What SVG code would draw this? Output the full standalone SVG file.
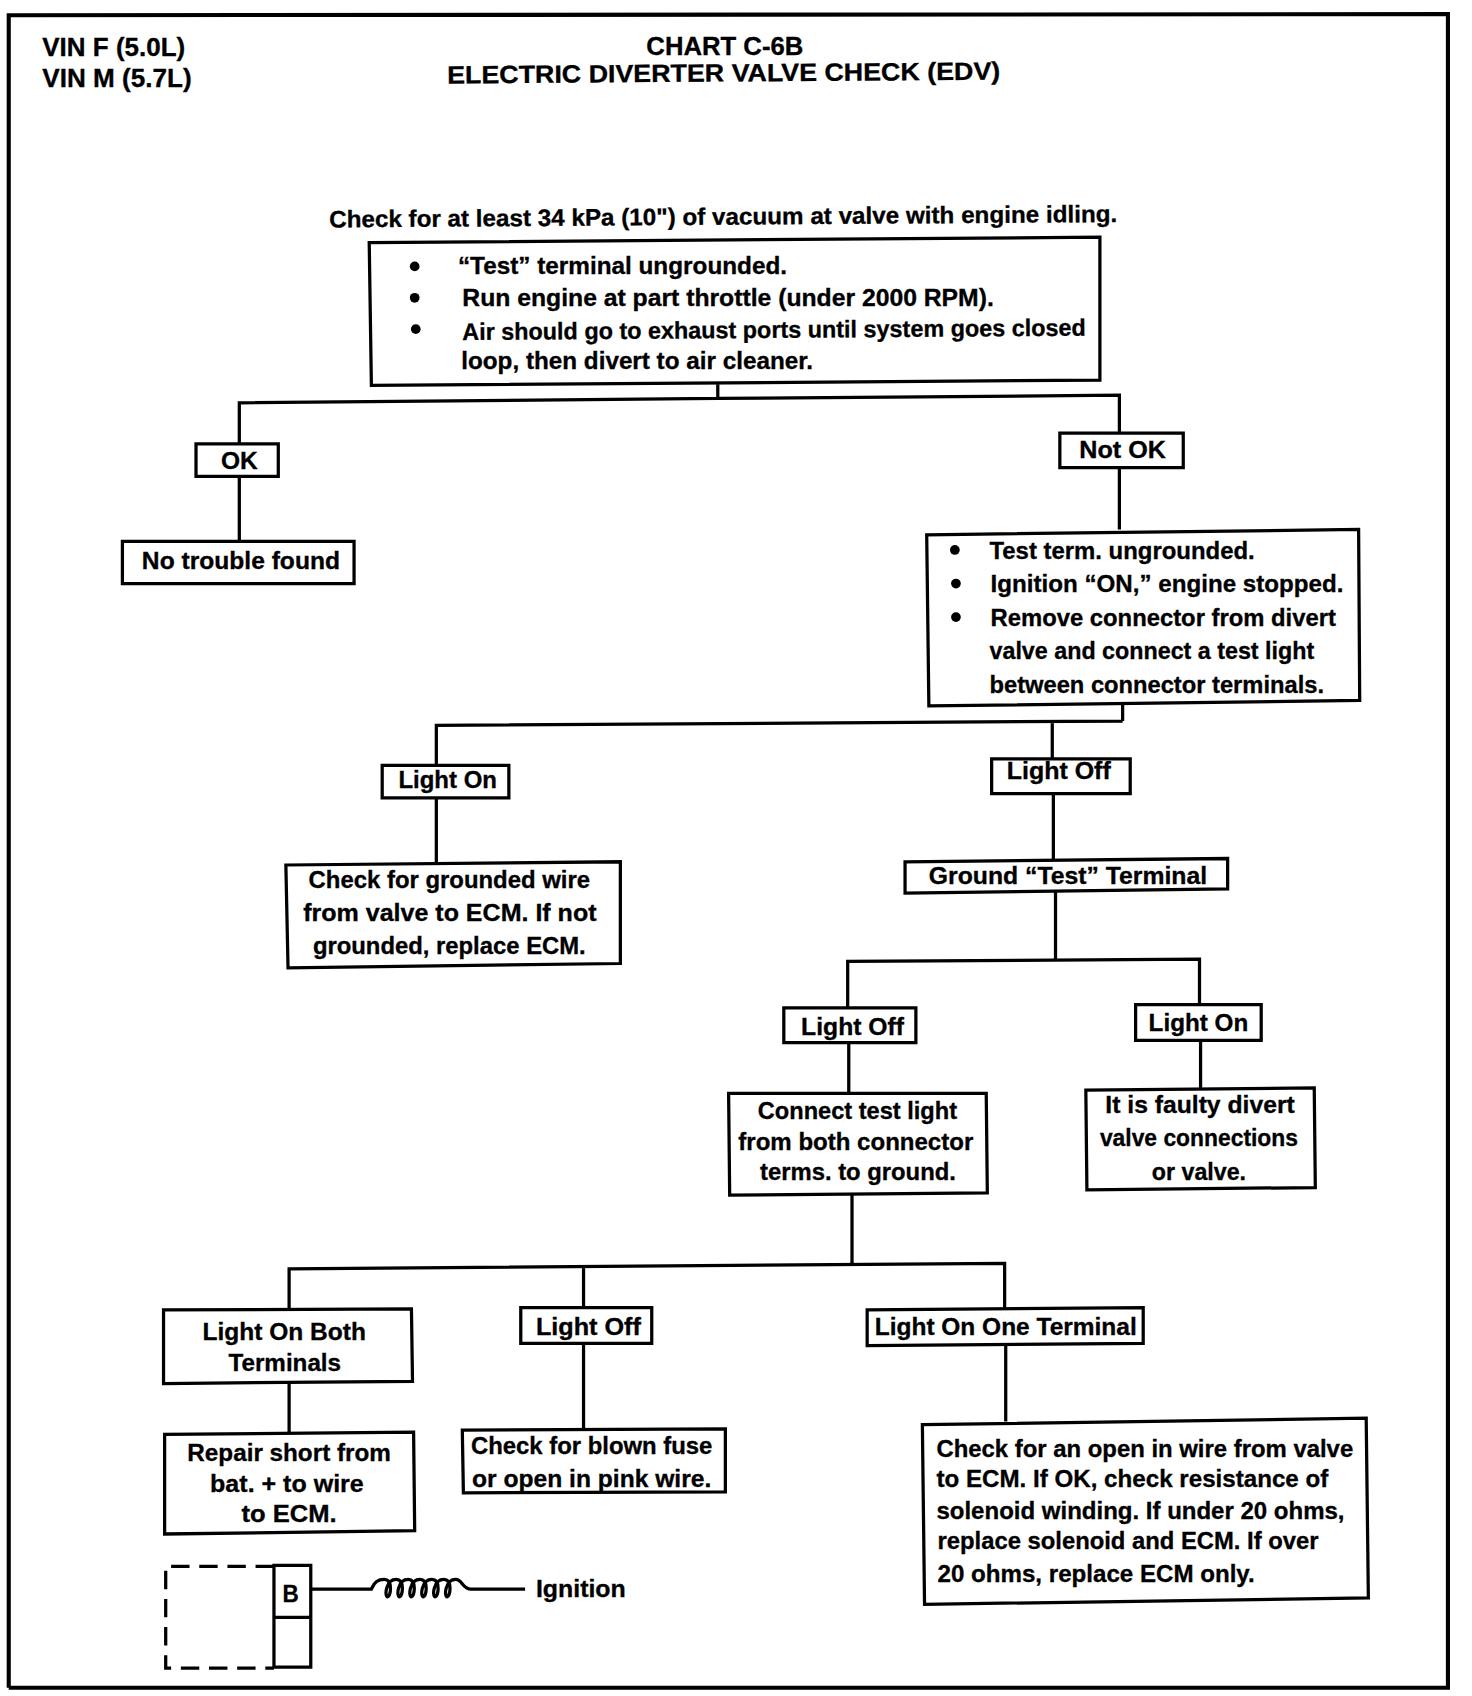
<svg xmlns="http://www.w3.org/2000/svg" width="1472" height="1696" viewBox="0 0 1472 1696">
<style>
.n{fill:none;stroke:#000;stroke-width:3;stroke-linejoin:miter}
.c{fill:none;stroke:#000;stroke-width:3}
text{font-family:"Liberation Sans",Arial,sans-serif;font-weight:700;font-size:22px;fill:#000;stroke:#000;stroke-width:.3px}
.h{font-size:23px}
</style>
<rect width="1472" height="1696" fill="#fff"/>
<g transform="translate(-1,-1) scale(1.0825)">
<g id="frame"><polyline class="c" style="stroke-width:3.8" points="9,1560 9,15 1338.5,14 1338.5,1560 9,1560"/></g>
<g id="header">
<text class="h" x="40" y="53" textLength="132" lengthAdjust="spacingAndGlyphs">VIN F (5.0L)</text>
<text class="h" x="40" y="81" textLength="138" lengthAdjust="spacingAndGlyphs">VIN M (5.7L)</text>
<text class="h" x="598" y="52" textLength="145" lengthAdjust="spacingAndGlyphs">CHART C-6B</text>
<text class="h" x="414" y="78" textLength="511" lengthAdjust="spacingAndGlyphs" transform="rotate(-0.4 414 78)">ELECTRIC DIVERTER VALVE CHECK (EDV)</text>
<text x="305" y="211" textLength="728" lengthAdjust="spacingAndGlyphs" transform="rotate(-0.4 305 211)">Check for at least 34 kPa (10") of vacuum at valve with engine idling.</text>
</g>
<g id="connectors">
<path class="c" d="M664,356V369M222,411V373L664,369L1035,366V401"/>
<path class="c" d="M222,441V501M1035,433V490"/>
<path class="c" d="M1038,651V667M404,708V671L1038,667M973,668V702M404,738V798M974,734V796"/>
<path class="c" d="M976,824V887M784,932V889L1109,887V929M785,964V1011M1110,962V1007"/>
<path class="c" d="M788,1104V1169M268,1210V1173L929,1168V1210M540,1171V1209M268,1278V1325M540,1242V1321M930,1243V1314"/>
</g>
<g id="n-vacuum-check">
<polygon class="n" points="342,225 1017,220 1017,352 344,357"/>
<circle cx="384" cy="247" r="4.5"/><circle cx="384" cy="276" r="4.5"/><circle cx="385" cy="305" r="4.5"/>
<text x="424" y="254" textLength="304" lengthAdjust="spacingAndGlyphs">“Test” terminal ungrounded.</text>
<text x="428" y="284" textLength="491" lengthAdjust="spacingAndGlyphs">Run engine at part throttle (under 2000 RPM).</text>
<text x="428" y="315" textLength="576" lengthAdjust="spacingAndGlyphs" transform="rotate(-0.4 428 315)">Air should go to exhaust ports until system goes closed</text>
<text x="427" y="342" textLength="325" lengthAdjust="spacingAndGlyphs">loop, then divert to air cleaner.</text>
</g>
<g id="n-ok"><polygon class="n" points="182,411 258,411 258,441 182,441"/><text x="205" y="434" textLength="34" lengthAdjust="spacingAndGlyphs">OK</text></g>
<g id="n-not-ok"><polygon class="n" points="980,401 1094,401 1094,433 980,433"/><text x="998" y="424" textLength="80" lengthAdjust="spacingAndGlyphs">Not OK</text></g>
<g id="n-no-trouble"><polygon class="n" points="114,501 328,501 328,540 114,540"/><text x="132" y="527" textLength="183" lengthAdjust="spacingAndGlyphs">No trouble found</text></g>
<g id="n-test-light">
<polygon class="n" points="857,495 1256,490 1257,648 859,653"/>
<circle cx="883" cy="509" r="4.5"/><circle cx="884" cy="540" r="4.5"/><circle cx="884" cy="571" r="4.5"/>
<text x="915" y="517" textLength="245" lengthAdjust="spacingAndGlyphs">Test term. ungrounded.</text>
<text x="916" y="548" textLength="326" lengthAdjust="spacingAndGlyphs">Ignition “ON,” engine stopped.</text>
<text x="916" y="579" textLength="319" lengthAdjust="spacingAndGlyphs">Remove connector from divert</text>
<text x="915" y="610" textLength="300" lengthAdjust="spacingAndGlyphs">valve and connect a test light</text>
<text x="915" y="641" textLength="309" lengthAdjust="spacingAndGlyphs">between connector terminals.</text>
</g>
<g id="n-light-on-1"><polygon class="n" points="354,708 471,708 471,738 354,738"/><text x="369" y="729" textLength="91" lengthAdjust="spacingAndGlyphs">Light On</text></g>
<g id="n-light-off-1"><polygon class="n" points="917,702 1045,702 1045,734 917,734"/><text x="931" y="721" textLength="96" lengthAdjust="spacingAndGlyphs">Light Off</text></g>
<g id="n-grounded-wire">
<polygon class="n" points="265,800 574,797 574,891 267,895"/>
<text x="286" y="821" textLength="260" lengthAdjust="spacingAndGlyphs">Check for grounded wire</text>
<text x="281" y="852" textLength="271" lengthAdjust="spacingAndGlyphs">from valve to ECM. If not</text>
<text x="290" y="882" textLength="252" lengthAdjust="spacingAndGlyphs">grounded, replace ECM.</text>
</g>
<g id="n-ground-test"><polygon class="n" points="837,797 1135,794 1135,822 837,826"/><text x="859" y="818" textLength="257" lengthAdjust="spacingAndGlyphs">Ground “Test” Terminal</text></g>
<g id="n-light-off-2"><polygon class="n" points="725,932 847,932 847,964 725,964"/><text x="741" y="957" textLength="95" lengthAdjust="spacingAndGlyphs">Light Off</text></g>
<g id="n-light-on-2"><polygon class="n" points="1050,929 1166,929 1166,962 1050,962"/><text x="1062" y="953" textLength="92" lengthAdjust="spacingAndGlyphs">Light On</text></g>
<g id="n-connect-ground">
<polygon class="n" points="674,1011 912,1011 913,1103 675,1105"/>
<text x="701" y="1035" textLength="184" lengthAdjust="spacingAndGlyphs">Connect test light</text>
<text x="683" y="1063" textLength="217" lengthAdjust="spacingAndGlyphs">from both connector</text>
<text x="703" y="1091" textLength="181" lengthAdjust="spacingAndGlyphs">terms. to ground.</text>
</g>
<g id="n-faulty">
<polygon class="n" points="1004,1008 1215,1006 1216,1098 1005,1100"/>
<text x="1022" y="1029" textLength="175" lengthAdjust="spacingAndGlyphs">It is faulty divert</text>
<text x="1017" y="1060" textLength="183" lengthAdjust="spacingAndGlyphs">valve connections</text>
<text x="1065" y="1091" textLength="87" lengthAdjust="spacingAndGlyphs">or valve.</text>
</g>
<g id="n-light-on-both">
<polygon class="n" points="152,1211 381,1210 382,1277 152,1279"/>
<text x="188" y="1239" textLength="151" lengthAdjust="spacingAndGlyphs">Light On Both</text>
<text x="212" y="1267" textLength="104" lengthAdjust="spacingAndGlyphs">Terminals</text>
</g>
<g id="n-light-off-3"><polygon class="n" points="482,1209 603,1209 603,1242 482,1242"/><text x="496" y="1234" textLength="97" lengthAdjust="spacingAndGlyphs">Light Off</text></g>
<g id="n-light-on-one"><polygon class="n" points="802,1211 1057,1209 1057,1242 802,1244"/><text x="809" y="1234" textLength="242" lengthAdjust="spacingAndGlyphs">Light On One Terminal</text></g>
<g id="n-repair-short">
<polygon class="n" points="153,1326 383,1324 384,1415 153,1418"/>
<text x="174" y="1351" textLength="188" lengthAdjust="spacingAndGlyphs">Repair short from</text>
<text x="195" y="1379" textLength="142" lengthAdjust="spacingAndGlyphs">bat. + to wire</text>
<text x="224" y="1407" textLength="88" lengthAdjust="spacingAndGlyphs">to ECM.</text>
</g>
<g id="n-blown-fuse">
<polygon class="n" points="428,1322 671,1321 671,1379 429,1380"/>
<text x="436" y="1344" textLength="223" lengthAdjust="spacingAndGlyphs">Check for blown fuse</text>
<text x="437" y="1375" textLength="221" lengthAdjust="spacingAndGlyphs">or open in pink wire.</text>
</g>
<g id="n-open-wire">
<polygon class="n" points="853,1317 1263,1311 1265,1477 855,1483"/>
<text x="866" y="1347" textLength="385" lengthAdjust="spacingAndGlyphs">Check for an open in wire from valve</text>
<text x="866" y="1375" textLength="362" lengthAdjust="spacingAndGlyphs">to ECM. If OK, check resistance of</text>
<text x="866" y="1404" textLength="377" lengthAdjust="spacingAndGlyphs">solenoid winding. If under 20 ohms,</text>
<text x="867" y="1432" textLength="352" lengthAdjust="spacingAndGlyphs">replace solenoid and ECM. If over</text>
<text x="867" y="1462" textLength="293" lengthAdjust="spacingAndGlyphs">20 ohms, replace ECM only.</text>
</g>
<g id="n-connector-key">
<path class="c" stroke-dasharray="17 9" d="M254,1448H154V1542H254"/>
<rect class="n" x="254" y="1447" width="34" height="94"/>
<path class="c" d="M254,1495H288"/>
<text x="262" y="1481" textLength="15" lengthAdjust="spacingAndGlyphs">B</text>
<path class="c" d="M288,1469H344C347,1462 350,1460 356,1460C364,1460 362,1476 359,1476C356,1476 357,1460 367,1460C375,1460 373,1476 370,1476C367,1476 368,1460 378,1460C386,1460 384,1476 381,1476C378,1476 379,1460 389,1460C397,1460 395,1476 392,1476C389,1476 390,1460 400,1460C408,1460 406,1476 403,1476C400,1476 401,1460 411,1460C419,1460 417,1476 414,1476C411,1476 412,1460 422,1460C428,1460 428,1469 436,1469H486"/>
<text x="496" y="1476" textLength="83" lengthAdjust="spacingAndGlyphs">Ignition</text>
</g>
</g>
</svg>
